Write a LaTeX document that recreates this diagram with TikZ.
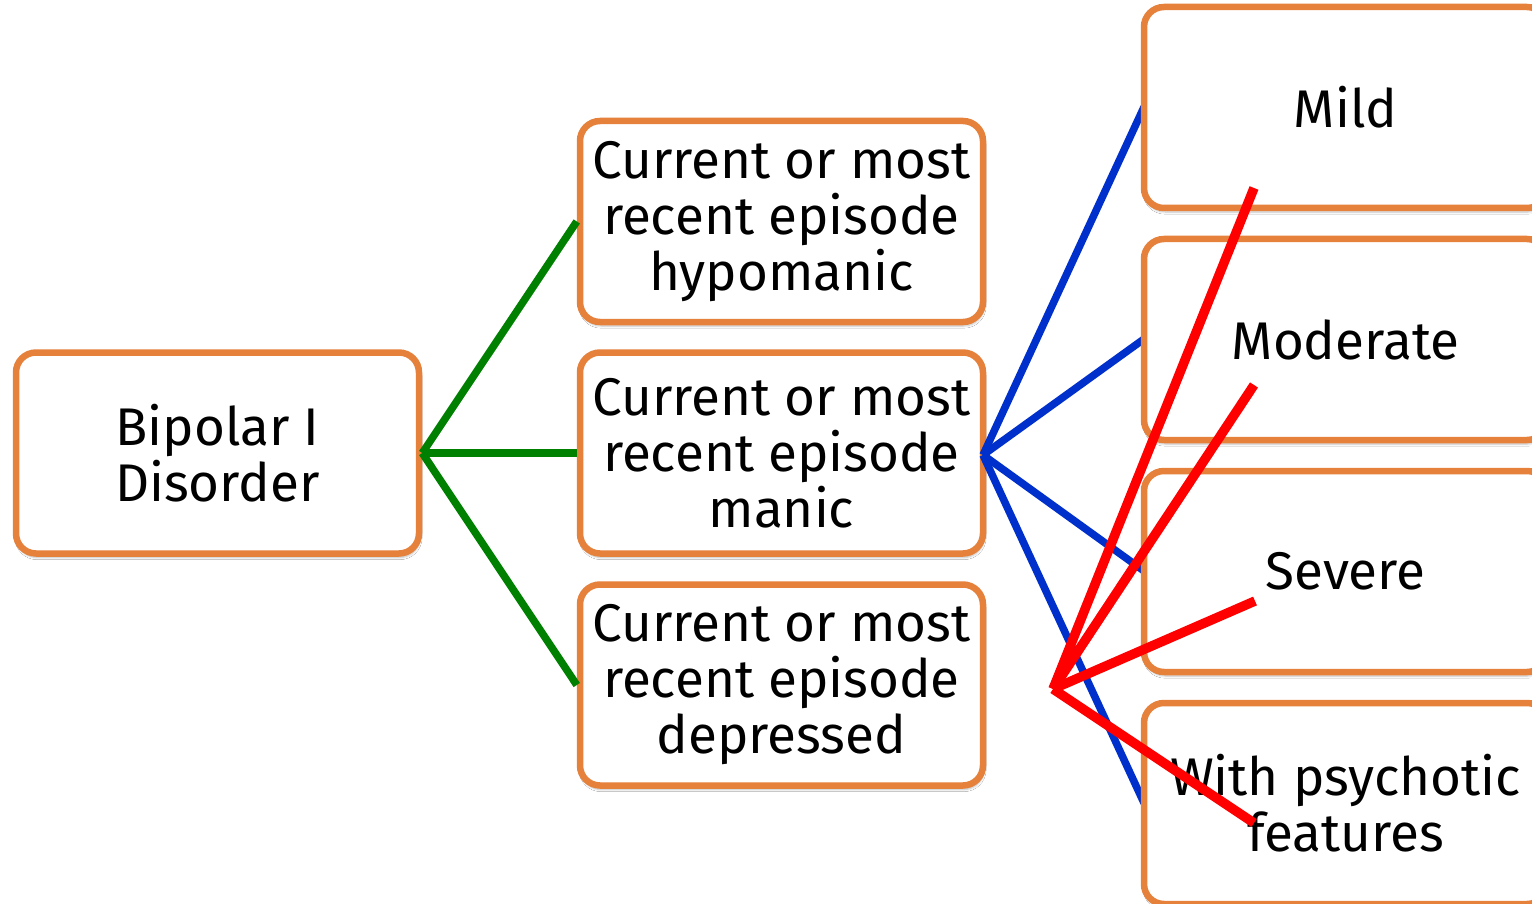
\documentclass[tikz,border=0pt]{standalone}
\usepackage{fontspec}
\setmainfont{Fira Sans}
\usetikzlibrary{shadows.blur}
\definecolor{boxorange}{RGB}{229,129,58}
\definecolor{linkgreen}{RGB}{0,128,0}
\definecolor{linkblue}{RGB}{0,48,204}
\definecolor{linkred}{RGB}{255,0,0}
\tikzset{
  box/.style={draw=boxorange, line width=6.5pt, fill=white, rounded corners=20pt,
    minimum width=403pt, minimum height=201pt, inner sep=0pt, align=center,
    font=\fontsize{53}{56}\selectfont,
    blur shadow={shadow xshift=1pt, shadow yshift=-4pt, shadow blur steps=6, shadow opacity=25}},
  greenlink/.style={draw=linkgreen, line width=7.5pt},
  bluelink/.style={draw=linkblue, line width=7.5pt},
  redlink/.style={draw=linkred, line width=9.5pt}
}
\begin{document}
\begin{tikzpicture}[x=1pt,y=-1pt]
\clip (0,0) rectangle (1532,904);
\fill[white] (0,0) rectangle (1532,904);

% blue links run beneath the severity boxes
\coordinate (mE) at (983,455);
\node[box] (bp)    at (217.5,453) {Bipolar I\\Disorder};
\node[box] (hypo)  at (781.5,221.5) {Current or most\\recent episode\\hypomanic};
\node[box] (manic) at (781.5,453) {Current or most\\recent episode\\manic};
\node[box] (dep)   at (781.5,685) {Current or most\\recent episode\\depressed};

\draw[bluelink] (mE) -- (1144,107);
\draw[bluelink] (mE) -- (1144,339);
\draw[bluelink] (mE) -- (1144,571);
\draw[bluelink] (mE) -- (1144,803);

\node[box] (mild) at (1345.5,107.5) {Mild};
\node[box] (mod)  at (1345.5,339.5) {Moderate};
\node[box] (sev)  at (1345.5,571.5) {Severe};
\node[box] (psy)  at (1345.5,803.5) {With psychotic\\features};

% green links from the diagnosis to the episode types
\draw[greenlink] (bp.east) -- (hypo.west);
\draw[greenlink] (bp.east) -- (manic.west);
\draw[greenlink] (bp.east) -- (dep.west);

% red strokes fanning out over the severity boxes
\coordinate (rv) at (1053,689);
\coordinate (r1) at (1254,188);
\coordinate (r2) at (1254,385);
\coordinate (r3) at (1255,601);
\coordinate (r4) at (1254,823);
\draw[redlink] (rv) -- (r1);
\draw[redlink] (rv) -- (r2);
\draw[redlink] (rv) -- (r3);
\draw[redlink] (rv) -- (r4);
\end{tikzpicture}
\end{document}
